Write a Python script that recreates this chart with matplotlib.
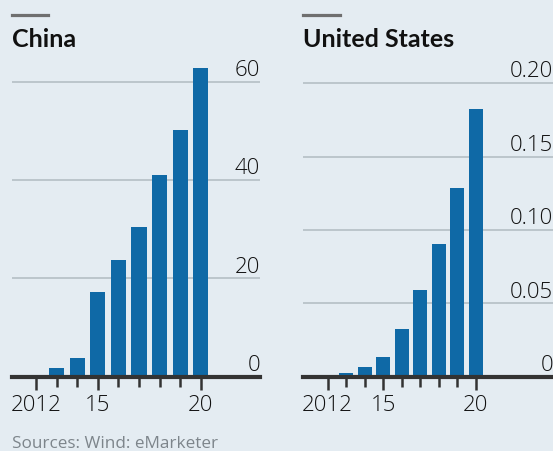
import matplotlib
matplotlib.use("Agg")
import matplotlib.pyplot as plt
import matplotlib.transforms as mtransforms

# ── Dados ─────────────────────────────────────────────────────────────────────
anos = [2012, 2013, 2014, 2015, 2016, 2017, 2018, 2019, 2020]
china = [0.4, 1.7, 3.7, 17.2, 23.7, 30.5, 41.0, 50.2, 62.7]
eua = [0.0, 0.0023, 0.0064, 0.0132, 0.0323, 0.0591, 0.0905, 0.1284, 0.1825]

china_yticks = [0, 20, 40, 60]
china_ylabels = ["0", "20", "40", "60"]
eua_yticks = [0, 0.05, 0.10, 0.15, 0.20]
eua_ylabels = ["0", "0.05", "0.10", "0.15", "0.20"]
xticks_maiores = [2012, 2015, 2020]
xlabels = ["2012", "15", "20"]

# ── Estilo ────────────────────────────────────────────────────────────────────
FUNDO = "#e4ecf2"
AZUL = "#0f69a6"
GRADE = "#b8c2c9"
EIXO = "#333333"
CINZA = "#7d858b"
plt.rcParams["font.family"] = ["Open Sans", "DejaVu Sans"]

W, H = 553, 451
fig = plt.figure(figsize=(W / 100, H / 100), dpi=100, facecolor=FUNDO)


def eixo_px(x0, x1, ytop, ybase):
    return fig.add_axes([x0 / W, (H - ybase) / H, (x1 - x0) / W, (ybase - ytop) / H])


def painel(ax, valores, yticks, ylabels, xlim, ylim, titulo, x_titulo, x_barra):
    ax.set_facecolor(FUNDO)
    ax.bar(anos, valores, width=0.74, color=AZUL, zorder=3)
    ax.set_xlim(*xlim)
    ax.set_ylim(*ylim)
    for s in ax.spines.values():
        s.set_visible(False)
    for v in yticks[1:]:
        ax.axhline(v, color=GRADE, lw=1.3, zorder=1)
    ax.axhline(0, color=EIXO, lw=3, zorder=4, clip_on=False)
    ax.set_yticks([])
    ax.set_xticks(anos, minor=True)
    ax.set_xticks(xticks_maiores)
    ax.set_xticklabels(xlabels, fontsize=16, fontweight="light", color="#111111")
    ax.tick_params(axis="x", which="major", length=9, width=1.8, color=EIXO, pad=4)
    ax.tick_params(axis="x", which="minor", length=7, width=1.8, color=EIXO)
    trans = mtransforms.blended_transform_factory(ax.transAxes, ax.transData)
    off = mtransforms.offset_copy(trans, fig=fig, x=0, y=0.5, units="points")
    for v, lab in zip(yticks, ylabels):
        ax.text(1.0, v, lab, transform=off, ha="right", va="bottom",
                fontsize=16, fontweight="light", color="#111111")
    fig.text(x_titulo / W, 1 - 47 / H, titulo, fontsize=18, fontweight="bold",
             family=["Lato", "DejaVu Sans"], ha="left", va="baseline", color="#111111")
    fig.add_artist(plt.Line2D([x_barra[0] / W, x_barra[1] / W], [1 - 15 / H, 1 - 15 / H],
                              color="#6f6f6f", lw=2.3))


# China
ax1 = eixo_px(12, 260, 52, 376.7)
painel(ax1, china, china_yticks, china_ylabels,
       (2010.83, 2022.88), (0, 66), "China", 12, (12, 48))

# Estados Unidos
ax2 = eixo_px(302.7, 553, 52, 376.7)
painel(ax2, eua, eua_yticks, eua_ylabels,
       (2010.65, 2024.18), (0, 0.2212), "United States", 303, (303, 340))

fig.text(12 / W, 1 - 448 / H, "Sources: Wind: eMarketer", fontsize=12.3,
         color=CINZA, ha="left", va="baseline")

fig.savefig("out.png", dpi=100, facecolor=FUNDO)
